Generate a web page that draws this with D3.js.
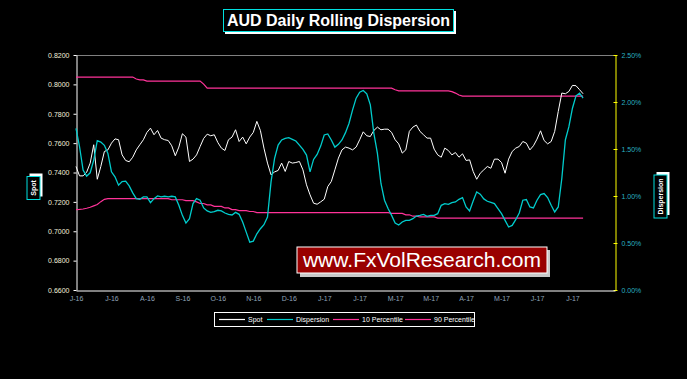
<!DOCTYPE html>
<html>
<head>
<meta charset="utf-8">
<script src="https://cdn.jsdelivr.net/npm/d3@7"></script>
<style>
  html, body { margin: 0; padding: 0; background: #000; }
  svg { display: block; font-family: Arial, "Liberation Sans", sans-serif; }
</style>
</head>
<body>
<script>
// category labels shown every 10 observations
const xLabels = ['J-16', 'J-16', 'A-16', 'S-16', 'O-16', 'N-16', 'D-16', 'J-17',
  'J-17', 'M-17', 'M-17', 'A-17', 'M-17', 'J-17', 'J-17'];
const leftTicks = [0.66, 0.68, 0.70, 0.72, 0.74, 0.76, 0.78, 0.80, 0.82];
const rightTicks = [0, 0.5, 1.0, 1.5, 2.0, 2.5];

// AUD spot
const spot = [
  0.7441, 0.7377, 0.7377, 0.7402, 0.7464, 0.7589, 0.7354, 0.7441, 0.7543, 0.7554,
  0.7600, 0.7629, 0.7623, 0.7520, 0.7482, 0.7473, 0.7504, 0.7554, 0.7589, 0.7623,
  0.7673, 0.7702, 0.7657, 0.7686, 0.7634, 0.7623, 0.7618, 0.7582, 0.7514, 0.7573,
  0.7664, 0.7641, 0.7475, 0.7491, 0.7520, 0.7577, 0.7632, 0.7661, 0.7650, 0.7657,
  0.7604, 0.7566, 0.7550, 0.7623, 0.7641, 0.7691, 0.7611, 0.7641, 0.7595, 0.7641,
  0.7673, 0.7748, 0.7686, 0.7566, 0.7464, 0.7384, 0.7404, 0.7414, 0.7464, 0.7407,
  0.7475, 0.7464, 0.7468, 0.7475, 0.7418, 0.7316, 0.7248, 0.7191, 0.7184, 0.7200,
  0.7218, 0.7304, 0.7339, 0.7418, 0.7498, 0.7554, 0.7573, 0.7566, 0.7554, 0.7573,
  0.7623, 0.7677, 0.7650, 0.7645, 0.7686, 0.7709, 0.7691, 0.7695, 0.7695, 0.7673,
  0.7623, 0.7595, 0.7532, 0.7554, 0.7680, 0.7709, 0.7723, 0.7680, 0.7657, 0.7634,
  0.7634, 0.7559, 0.7520, 0.7504, 0.7566, 0.7550, 0.7520, 0.7536, 0.7504, 0.7527,
  0.7482, 0.7486, 0.7407, 0.7354, 0.7395, 0.7418, 0.7441, 0.7429, 0.7491, 0.7491,
  0.7468, 0.7395, 0.7491, 0.7543, 0.7566, 0.7577, 0.7611, 0.7600, 0.7554, 0.7582,
  0.7627, 0.7684, 0.7618, 0.7595, 0.7611, 0.7680, 0.7816, 0.7941, 0.7936, 0.7952,
  0.7993, 0.7991, 0.7964, 0.7936
];

// rolling dispersion, %
const dispersion = [
  1.720, 1.524, 1.275, 1.211, 1.247, 1.382, 1.588, 1.574, 1.539, 1.453,
  1.257, 1.204, 1.115, 1.154, 1.158, 1.108, 1.033, 0.972, 0.965, 0.990,
  0.990, 0.930, 0.972, 1.001, 0.990, 0.997, 0.990, 0.997, 0.990, 0.901,
  0.794, 0.712, 0.759, 0.919, 0.972, 0.955, 0.873, 0.841, 0.826, 0.833,
  0.848, 0.841, 0.819, 0.805, 0.798, 0.826, 0.805, 0.723, 0.616, 0.509,
  0.520, 0.598, 0.652, 0.695, 0.777, 1.150, 1.400, 1.542, 1.596, 1.613,
  1.620, 1.603, 1.585, 1.542, 1.496, 1.435, 1.257, 1.389, 1.442, 1.531,
  1.649, 1.660, 1.596, 1.520, 1.550, 1.596, 1.674, 1.774, 1.916, 2.041,
  2.105, 2.123, 2.087, 1.969, 1.667, 1.453, 1.133, 0.955, 0.866, 0.794,
  0.712, 0.691, 0.723, 0.741, 0.741, 0.759, 0.787, 0.794, 0.805, 0.784,
  0.794, 0.794, 0.812, 0.901, 0.919, 0.912, 0.930, 0.937, 0.965, 0.983,
  0.883, 0.841, 0.947, 1.044, 1.019, 0.969, 0.944, 0.933, 0.919, 0.866,
  0.812, 0.741, 0.670, 0.687, 0.748, 0.819, 0.955, 0.962, 0.883, 0.873,
  0.955, 1.015, 1.026, 0.983, 0.901, 0.830, 0.883, 1.186, 1.596, 1.738,
  1.934, 2.066, 2.094, 2.041
];

// 10th percentile of dispersion, %
const p10 = [
  0.855, 0.857, 0.862, 0.870, 0.880, 0.895, 0.910, 0.940, 0.965, 0.972,
  0.972, 0.972, 0.972, 0.972, 0.972, 0.972, 0.972, 0.972, 0.972, 0.972,
  0.972, 0.972, 0.972, 0.972, 0.972, 0.972, 0.972, 0.960, 0.960, 0.960,
  0.960, 0.950, 0.950, 0.950, 0.937, 0.920, 0.920, 0.905, 0.905, 0.890,
  0.890, 0.890, 0.873, 0.873, 0.855, 0.855, 0.845, 0.845, 0.845, 0.835,
  0.835, 0.823, 0.823, 0.823, 0.823, 0.823, 0.823, 0.823, 0.823, 0.823,
  0.823, 0.823, 0.823, 0.823, 0.823, 0.823, 0.823, 0.823, 0.823, 0.823,
  0.823, 0.823, 0.823, 0.823, 0.823, 0.823, 0.823, 0.823, 0.823, 0.823,
  0.823, 0.823, 0.823, 0.823, 0.823, 0.823, 0.823, 0.823, 0.823, 0.815,
  0.815, 0.815, 0.815, 0.800, 0.800, 0.785, 0.785, 0.777, 0.777, 0.777,
  0.777, 0.777, 0.765, 0.765, 0.765, 0.765, 0.765, 0.765, 0.765, 0.765,
  0.765, 0.765, 0.765, 0.765, 0.765, 0.765, 0.765, 0.765, 0.765, 0.765,
  0.765, 0.765, 0.765, 0.765, 0.765, 0.765, 0.765, 0.765, 0.765, 0.765,
  0.765, 0.765, 0.765, 0.765, 0.765, 0.765, 0.765, 0.765, 0.765, 0.765,
  0.765, 0.765, 0.765, 0.765
];

// 90th percentile of dispersion, %
const p90 = [
  2.265, 2.265, 2.265, 2.265, 2.265, 2.265, 2.265, 2.265, 2.265, 2.265,
  2.265, 2.265, 2.265, 2.265, 2.265, 2.265, 2.265, 2.245, 2.235, 2.235,
  2.222, 2.222, 2.222, 2.222, 2.222, 2.222, 2.222, 2.222, 2.222, 2.222,
  2.222, 2.222, 2.222, 2.222, 2.222, 2.222, 2.190, 2.147, 2.147, 2.147,
  2.147, 2.147, 2.147, 2.147, 2.147, 2.147, 2.147, 2.147, 2.147, 2.147,
  2.147, 2.147, 2.147, 2.147, 2.147, 2.147, 2.147, 2.147, 2.147, 2.147,
  2.147, 2.147, 2.147, 2.147, 2.147, 2.147, 2.147, 2.147, 2.147, 2.147,
  2.147, 2.147, 2.147, 2.147, 2.147, 2.147, 2.147, 2.147, 2.147, 2.147,
  2.147, 2.147, 2.147, 2.147, 2.147, 2.147, 2.147, 2.147, 2.147, 2.147,
  2.130, 2.119, 2.119, 2.119, 2.119, 2.119, 2.119, 2.119, 2.119, 2.119,
  2.119, 2.119, 2.119, 2.119, 2.119, 2.119, 2.110, 2.095, 2.075, 2.062,
  2.062, 2.062, 2.062, 2.062, 2.062, 2.062, 2.062, 2.062, 2.062, 2.062,
  2.062, 2.062, 2.062, 2.062, 2.062, 2.062, 2.062, 2.062, 2.062, 2.062,
  2.062, 2.062, 2.062, 2.062, 2.062, 2.062, 2.062, 2.062, 2.062, 2.062,
  2.062, 2.062, 2.062, 2.062
];

const W = 687, H = 379;
const plot = { left: 76, right: 615, top: 55, bottom: 290 };
const pink = '#ff3399', cyan = '#00cccc';

const svg = d3.select('body').append('svg')
  .attr('width', W).attr('height', H);

svg.append('rect').attr('width', W).attr('height', H).attr('fill', '#000');

const x = d3.scaleLinear().domain([0, 152]).range([plot.left, plot.right]);
const yL = d3.scaleLinear().domain([0.66, 0.82]).range([plot.bottom, plot.top]);
const yR = d3.scaleLinear().domain([0, 2.5]).range([plot.bottom, plot.top]);

// top border of plot area
svg.append('line')
  .attr('x1', plot.left).attr('x2', plot.right)
  .attr('y1', plot.top + 0.5).attr('y2', plot.top + 0.5)
  .attr('stroke', '#808080').attr('stroke-width', 1);

// left axis
const leftAxis = svg.append('g')
  .attr('transform', `translate(${plot.left + 0.5},0)`)
  .call(d3.axisLeft(yL).tickValues(leftTicks).tickFormat(d3.format('.4f')).tickSize(3).tickSizeOuter(0).tickPadding(4));
leftAxis.select('.domain').attr('stroke', '#fff');
leftAxis.selectAll('.tick line').attr('stroke', '#fff');
leftAxis.selectAll('text').attr('fill', '#f2f0dc').style('font-size', '7px');

// right axis
const rightAxis = svg.append('g')
  .attr('transform', `translate(${plot.right + 0.5},0)`)
  .call(d3.axisRight(yR).tickValues(rightTicks).tickFormat(d => d.toFixed(2) + '%').tickSize(2).tickSizeOuter(0).tickPadding(4));
rightAxis.select('.domain').attr('stroke', '#ffff00');
rightAxis.selectAll('.tick line').attr('stroke', '#ffff00').attr('x1', -2);
rightAxis.selectAll('text').attr('fill', '#2ab0c0').style('font-size', '7px');

// bottom axis
const xTickVals = xLabels.map((d, i) => i * 10);
const bottomAxis = svg.append('g')
  .attr('transform', `translate(0,${plot.bottom + 0.5})`)
  .call(d3.axisBottom(x).tickValues(xTickVals).tickFormat((d, i) => xLabels[i]).tickSize(0).tickSizeOuter(0).tickPadding(6));
bottomAxis.select('.domain').attr('stroke', '#fff');
bottomAxis.selectAll('text').attr('fill', '#8fa3b8').style('font-size', '7px');

// series
const lineL = d3.line().x((d, i) => x(i)).y(d => yL(d));
const lineR = d3.line().x((d, i) => x(i)).y(d => yR(d));

svg.append('path').datum(p90).attr('d', lineR)
  .attr('fill', 'none').attr('stroke', pink).attr('stroke-width', 1.2);
svg.append('path').datum(p10).attr('d', lineR)
  .attr('fill', 'none').attr('stroke', pink).attr('stroke-width', 1.2);
svg.append('path').datum(spot).attr('d', lineL)
  .attr('fill', 'none').attr('stroke', '#fff').attr('stroke-width', 1);
svg.append('path').datum(dispersion).attr('d', lineR)
  .attr('fill', 'none').attr('stroke', cyan).attr('stroke-width', 1.3);

// title box
svg.append('rect').attr('x', 225).attr('y', 11).attr('width', 231).attr('height', 23).attr('fill', '#fff');
svg.append('rect').attr('x', 223.5).attr('y', 9.5).attr('width', 230).attr('height', 22)
  .attr('fill', '#000').attr('stroke', '#00e0e0').attr('stroke-width', 1);
svg.append('text').attr('x', 338.5).attr('y', 26).attr('text-anchor', 'middle')
  .attr('fill', '#fff').style('font-size', '16px').style('font-weight', 'bold')
  .text('AUD Daily Rolling Dispersion');

// rotated axis title boxes
function axisTitle(cx, cy, w, label) {
  const g = svg.append('g').attr('transform', `translate(${cx},${cy}) rotate(-90)`);
  g.append('rect').attr('x', -w / 2 + 3).attr('y', -6.5 + 2.5).attr('width', w).attr('height', 13).attr('fill', '#fff');
  g.append('rect').attr('x', -w / 2).attr('y', -6.5).attr('width', w).attr('height', 13)
    .attr('fill', '#000').attr('stroke', '#00e0e0').attr('stroke-width', 1);
  g.append('text').attr('x', 0).attr('y', 2.5).attr('text-anchor', 'middle')
    .attr('fill', '#fff').style('font-size', '7px').style('font-weight', 'bold').text(label);
}
axisTitle(33.5, 188, 23, 'Spot');
axisTitle(660.5, 196.5, 43, 'Dispersion');

// watermark
svg.append('rect').attr('x', 300).attr('y', 250).attr('width', 250).attr('height', 27).attr('fill', '#c8c8c8');
svg.append('rect').attr('x', 297).attr('y', 247).attr('width', 250).attr('height', 26)
  .attr('fill', '#990000').attr('stroke', '#fff').attr('stroke-width', 1);
svg.append('text').attr('x', 422).attr('y', 267).attr('text-anchor', 'middle')
  .attr('fill', '#fff').style('font-size', '21px').text('www.FxVolResearch.com');

// legend
svg.append('rect').attr('x', 214.5).attr('y', 312.5).attr('width', 260).attr('height', 14)
  .attr('fill', '#000').attr('stroke', '#fff').attr('stroke-width', 1);
const legendItems = [
  { label: 'Spot', color: '#fff', x: 219 },
  { label: 'Dispersion', color: cyan, x: 267 },
  { label: '10 Percentile', color: pink, x: 333 },
  { label: '90 Percentile', color: pink, x: 405 }
];
const leg = svg.append('g').selectAll('g').data(legendItems).join('g');
leg.append('line')
  .attr('x1', d => d.x).attr('x2', d => d.x + 26)
  .attr('y1', 319.5).attr('y2', 319.5)
  .attr('stroke', d => d.color).attr('stroke-width', 1.2);
leg.append('text')
  .attr('x', d => d.x + 29).attr('y', 322)
  .attr('fill', '#fff').style('font-size', '7px')
  .text(d => d.label);
</script>
</body>
</html>
